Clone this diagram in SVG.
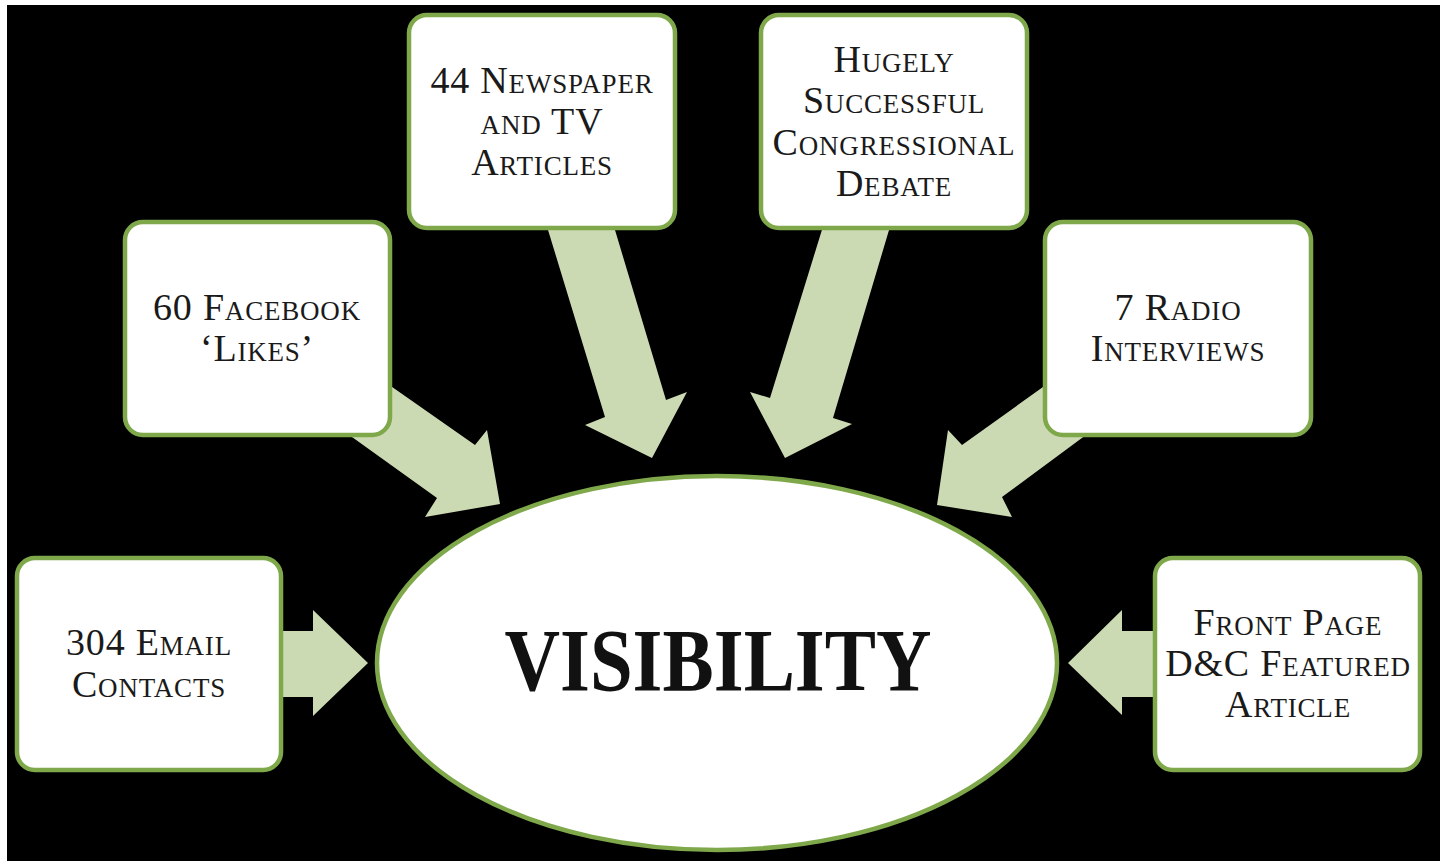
<svg xmlns="http://www.w3.org/2000/svg" width="1440" height="861" viewBox="0 0 1440 861">
<style>
.box{fill:#ffffff;stroke:#7fa84b;stroke-width:4.5}
.arr{fill:#cbdab2}
.lbl{font-family:"Liberation Serif",serif;font-variant:small-caps;font-size:38px;letter-spacing:0.8px;fill:#1a1a1a;text-anchor:middle}
.big{font-family:"Liberation Serif",serif;font-weight:bold;font-size:88px;fill:#111;text-anchor:middle}
</style>
<rect x="0" y="0" width="1440" height="861" fill="#ffffff"/>
<rect x="7" y="5" width="1433" height="856" fill="#000000"/>
<g id="connectors">
<polygon class="arr" points="270,631 313,631 313,610 368,663 313,716 313,697 270,697"/>
<polygon class="arr" points="1170,631 1122,631 1122,610 1068,663 1122,715 1122,697 1170,697"/>
<polygon class="arr" points="385,382 475,445 487,430 500,504 425,517 437,498 345,432"/>
<polygon class="arr" points="545,220 612,220 666,400 687,392 652,458 585,425 605,417"/>
<polygon class="arr" points="825,220 892,220 833,418 852,424 785,458 750,392 770,398"/>
<polygon class="arr" points="1050,382 962,445 948,430 937,505 1012,517 1002,497 1090,432"/>
</g>
<g id="visibility">
<ellipse cx="717" cy="663" rx="340" ry="187" fill="#ffffff" stroke="#7fa84b" stroke-width="4.5"/>
<text class="big" x="718" y="690" textLength="427" lengthAdjust="spacingAndGlyphs">VISIBILITY</text>
</g>
<g id="email">
<rect class="box" x="17" y="558" width="264" height="212" rx="18"/>
<text class="lbl" x="149" y="655">304 Email</text>
<text class="lbl" x="149" y="697">Contacts</text>
</g>
<g id="facebook">
<rect class="box" x="125" y="222" width="265" height="213" rx="18"/>
<text class="lbl" x="257" y="320">60 Facebook</text>
<text class="lbl" x="257" y="361">‘Likes’</text>
</g>
<g id="newspaper">
<rect class="box" x="409" y="15" width="266" height="213" rx="18"/>
<text class="lbl" x="542" y="93">44 Newspaper</text>
<text class="lbl" x="542" y="134">and TV</text>
<text class="lbl" x="542" y="175">Articles</text>
</g>
<g id="debate">
<rect class="box" x="761" y="15" width="266" height="213" rx="18"/>
<text class="lbl" x="894" y="72">Hugely</text>
<text class="lbl" x="894" y="113">Successful</text>
<text class="lbl" x="894" y="155">Congressional</text>
<text class="lbl" x="894" y="196">Debate</text>
</g>
<g id="radio">
<rect class="box" x="1045" y="222" width="266" height="213" rx="18"/>
<text class="lbl" x="1178" y="320">7 Radio</text>
<text class="lbl" x="1178" y="361">Interviews</text>
</g>
<g id="frontpage">
<rect class="box" x="1155" y="558" width="265" height="212" rx="18"/>
<text class="lbl" x="1288" y="635">Front Page</text>
<text class="lbl" x="1288" y="676">D&amp;C Featured</text>
<text class="lbl" x="1288" y="717">Article</text>
</g>
</svg>
